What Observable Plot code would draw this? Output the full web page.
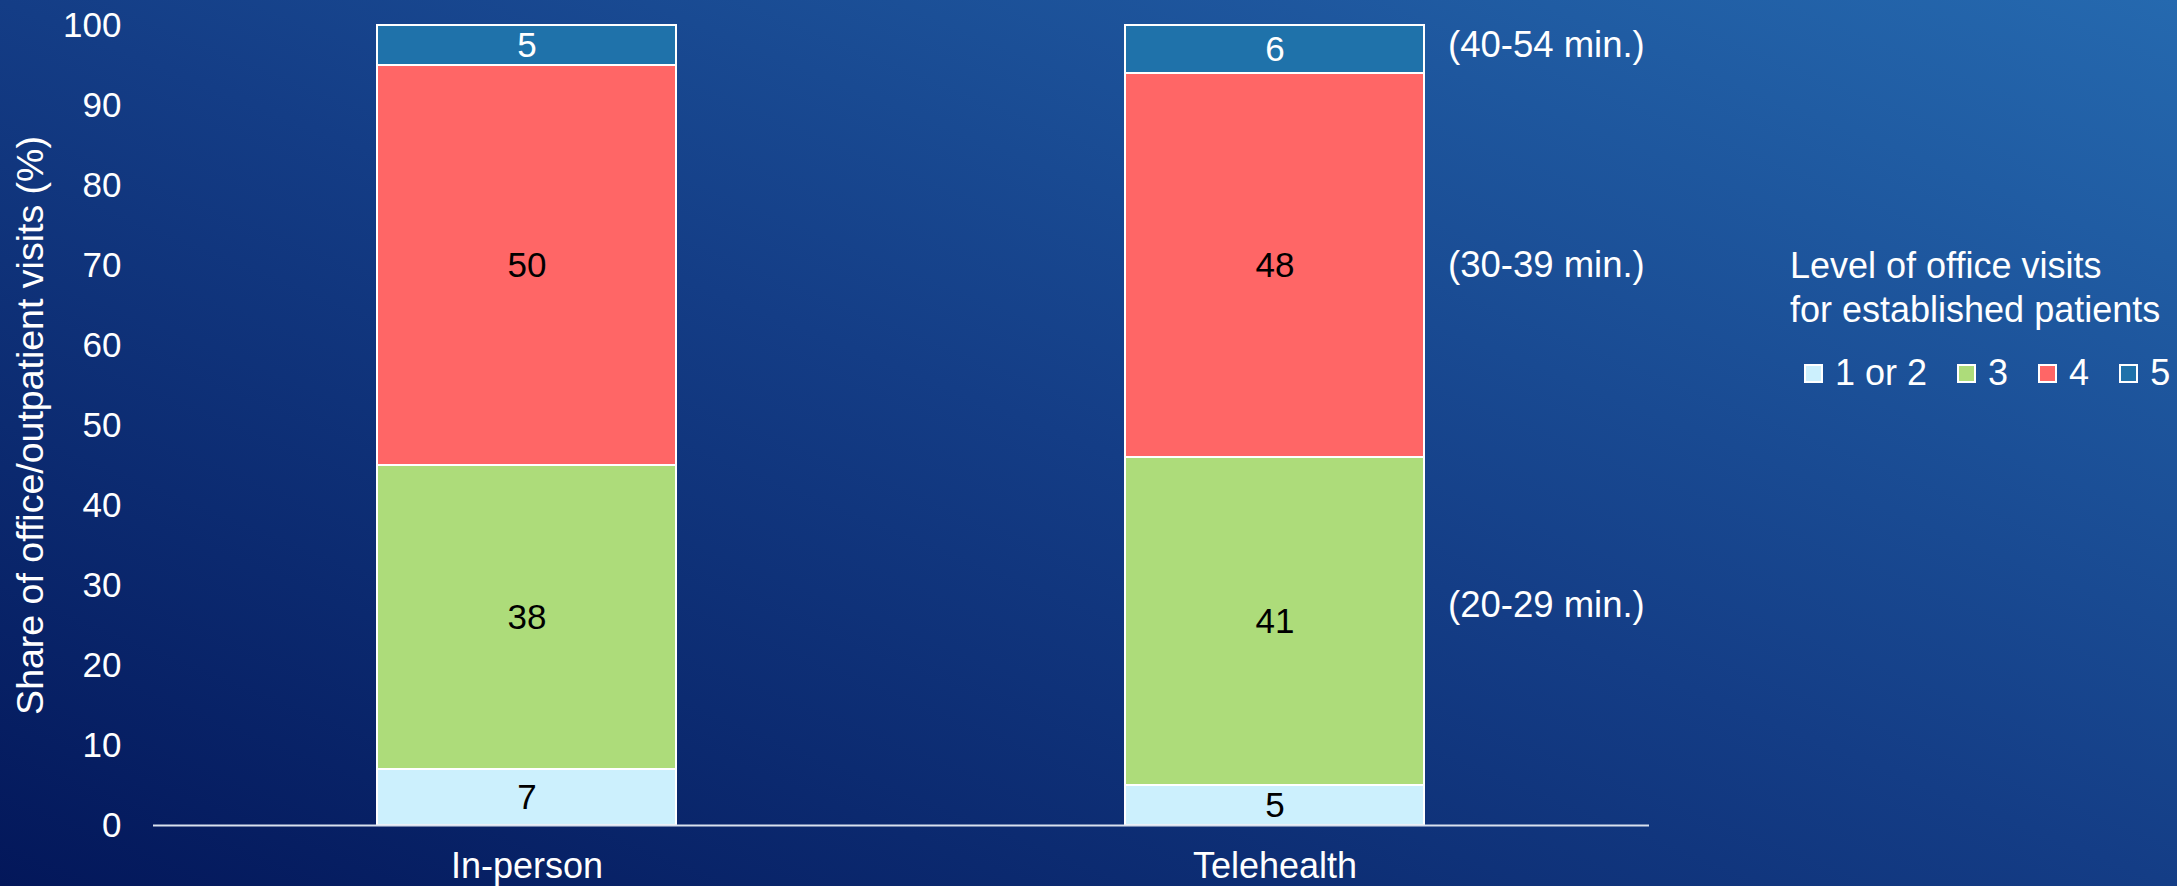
<!DOCTYPE html>
<html>
<head>
<meta charset="utf-8">
<script src="https://cdn.jsdelivr.net/npm/d3@7"></script>
<script src="https://cdn.jsdelivr.net/npm/@observablehq/plot@0.6"></script>
<style>
  html, body { margin: 0; padding: 0; }
  #wrap {
    position: relative; width: 2177px; height: 886px; overflow: hidden;
    background: linear-gradient(to top right, #03175a 0%, #143d86 50%, #2569af 100%);
    font-family: "Liberation Sans", Arial, sans-serif;
  }
  #chart { position: absolute; left: 0; top: 0; }
  #legend { position: absolute; left: 1790px; top: 244px; color: white; font-size: 36px; line-height: 44px; white-space: nowrap; }
  #legend .title { white-space: nowrap; }
  #legend .row { margin-top: 19px; margin-left: 14px; white-space: nowrap; }
  .lg-swatches { font-family: "Liberation Sans", Arial, sans-serif !important; font-size: 36px !important; color: white !important; margin: 0 !important; line-height: 44px; flex-wrap: nowrap !important; white-space: nowrap !important; display: flex !important; }
  .lg-swatch { margin-right: 30px !important; white-space: nowrap !important; flex-shrink: 0; }
  .lg-swatch > svg { margin-right: 12px !important; outline: 2px solid white; outline-offset: -2px; }
</style>
</head>
<body>
<div id="wrap">
  <div id="chart"></div>
  <div id="legend">
    <div class="title">Level of office visits</div>
    <div class="title">for established patients</div>
    <div class="row" id="swatches"></div>
  </div>
</div>
<script>
const categories = ["In-person", "Telehealth"];
const levels = ["1 or 2", "3", "4", "5"];
const inPersonValues = [7, 38, 50, 5];
const telehealthValues = [5, 41, 48, 6];
const levelColors = ["#ccf0fd", "#addc7a", "#ff6666", "#1f72aa"];
const valueLabelColors = ["black", "black", "black", "white"];
const yTicks = [0, 10, 20, 30, 40, 50, 60, 70, 80, 90, 100];
const yTitle = "Share of office/outpatient visits (%)";
const durationLabels = ["(20-29 min.)", "(30-39 min.)", "(40-54 min.)"];
const durationLabelY = [27.5, 70, 97.5];

const seriesByCategory = [inPersonValues, telehealthValues];
const rows = [];
categories.forEach((cat, ci) => {
  levels.forEach((lev, li) => {
    rows.push({category: cat, level: lev, value: seriesByCategory[ci][li], labelColor: valueLabelColors[li]});
  });
});
const durations = durationLabels.map((t, i) => ({category: categories[1], text: t, y: durationLabelY[i]}));

const font = '"Liberation Sans", Arial, sans-serif';

const chart = Plot.plot({
  width: 2177,
  height: 886,
  marginLeft: 153,
  marginRight: 528,
  marginTop: 25,
  marginBottom: 61,
  style: {background: "transparent", color: "white", fontFamily: font, fontSize: "35px", overflow: "visible"},
  x: {domain: categories, paddingInner: 0.6, paddingOuter: 0.3},
  y: {domain: [0, 100]},
  color: {domain: levels, range: levelColors},
  marks: [
    Plot.barY(rows, Plot.stackY({x: "category", y: "value", fill: "level", stroke: "white", strokeWidth: 2})),
    Plot.text(rows, Plot.stackY({x: "category", y: "value", z: "level", text: d => String(d.value), fill: "labelColor", fontSize: 35})),
    Plot.ruleY([0], {stroke: "#d9e1ee", strokeWidth: 2}),
    Plot.text(durations, {x: "category", y: "y", text: "text", textAnchor: "start", dx: 173, fill: "white", fontSize: 36.5}),
    Plot.axisY({ticks: yTicks, tickSize: 0, tickPadding: 32, fontSize: 35, label: null, fill: "white"}),
    Plot.axisY({ticks: [], tickSize: 0, fontSize: 37.5, label: yTitle, labelAnchor: "center", labelArrow: "none", labelOffset: 137, fill: "white"}),
    Plot.axisX({tickSize: 0, tickPadding: 27, fontSize: 36, label: null, fill: "white"})
  ]
});
document.getElementById("chart").appendChild(chart);

const legend = Plot.legend({color: {domain: levels, range: levelColors}, legend: "swatches", swatchSize: 19, className: "lg"});
document.getElementById("swatches").appendChild(legend);
</script>
</body>
</html>
